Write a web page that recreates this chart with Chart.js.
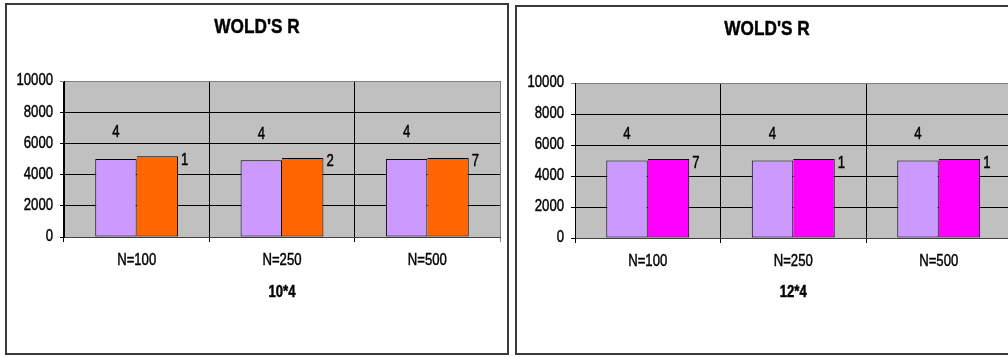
<!DOCTYPE html>
<html>
<head>
<meta charset="utf-8">
<script src="https://cdn.jsdelivr.net/npm/chart.js@4/dist/chart.umd.min.js"></script>
<style>
  html, body { margin: 0; padding: 0; background: #fff; width: 1008px; height: 357px; overflow: hidden; }
  .box { position: absolute; box-sizing: border-box; border: 2px solid #3a3a3a; background: #fff; }
  .box canvas { display: block; }
</style>
</head>
<body>
<div class="box" id="boxL" style="left:5px; top:3px; width:504px; height:352px;"><canvas id="cL" width="500" height="348"></canvas></div>
<div class="box" id="boxR" style="left:515px; top:5px; width:504px; height:350px;"><canvas id="cR" width="500" height="346"></canvas></div>
<script>
// ---- data ----
const categories = ['N=100', 'N=250', 'N=500'];
const chartTitle = "WOLD'S R";
const leftAxisTitle = '10*4';
const rightAxisTitle = '12*4';
const leftPurple = [5000, 4920, 5000];
const leftOrange = [5170, 5070, 5070];
const rightPurple = [5000, 5000, 5000];
const rightMagenta = [5090, 5090, 5090];
const leftTopLabels = ['4', '4', '4'];
const leftSideLabels = ['1', '2', '7'];
const rightTopLabels = ['4', '4', '4'];
const rightSideLabels = ['7', '1', '1'];
const yMin = 0, yMax = 10000, yStep = 2000;

// ---- rendering ----
const FONT = "'Liberation Sans', Arial, sans-serif";
const TEXT_SQUEEZE = 0.82; // narrow (condensed) lettering like the original

// draw all text horizontally condensed around its anchor point, slightly heavier
function condenseText(ctx) {
  const orig = ctx.fillText.bind(ctx);
  const origStroke = ctx.strokeText.bind(ctx);
  ctx.fillText = function (text, x, y, maxWidth) {
    this.save();
    this.translate(x, y);
    this.scale(TEXT_SQUEEZE, 1);
    orig(text, 0, 0);
    this.strokeStyle = this.fillStyle;
    this.lineWidth = 0.45;
    origStroke(text, 0, 0);
    this.restore();
  };
}

const plotBg = {
  id: 'plotBg',
  beforeInit(chart) { condenseText(chart.ctx); },
  beforeDraw(chart) {
    const { ctx, chartArea: a } = chart;
    ctx.save();
    ctx.fillStyle = '#C0C0C0';
    ctx.fillRect(a.left, a.top, a.width, a.height);
    ctx.restore();
  }
};

const barLabels = {
  id: 'barLabels',
  afterDatasetsDraw(chart, args, opts) {
    const ctx = chart.ctx;
    ctx.save();
    ctx.font = '16px ' + FONT;
    ctx.fillStyle = '#000';
    ctx.textBaseline = 'middle';
    chart.getDatasetMeta(0).data.forEach((bar, i) => {
      ctx.textAlign = 'center';
      ctx.fillText(opts.top[i], bar.x, bar.y - 26);
    });
    chart.getDatasetMeta(1).data.forEach((bar, i) => {
      ctx.textAlign = 'left';
      ctx.fillText(opts.side[i], bar.x + bar.width / 2 + 3, bar.y + 4);
    });
    ctx.restore();
  }
};

function makeChart(id, purple, second, secondColor, axisTitle, topLabels, sideLabels, lay) {
  return new Chart(document.getElementById(id), {
    type: 'bar',
    data: {
      labels: categories,
      datasets: [
        { data: purple, backgroundColor: '#CC99FF', borderColor: '#000', borderWidth: 1, borderSkipped: false },
        { data: second, backgroundColor: secondColor, borderColor: '#000',
          borderWidth: { top: 1, right: 1, bottom: 1, left: 0 }, borderSkipped: false }
      ]
    },
    options: {
      responsive: false,
      animation: false,
      devicePixelRatio: 1,
      datasets: { bar: { categoryPercentage: 0.57, barPercentage: 1 } },
      layout: { padding: { left: lay.side, right: lay.side, top: 0, bottom: 0 } },
      plugins: {
        legend: { display: false },
        tooltip: { enabled: false },
        title: {
          display: true, text: chartTitle, color: '#000',
          font: { family: FONT, size: 21, weight: 'bold' },
          padding: { top: lay.titleTop, bottom: lay.titleBottom }
        },
        barLabels: { top: topLabels, side: sideLabels }
      },
      scales: {
        x: {
          grid: {
            display: true, offset: true, lineWidth: 1, tickLength: 5,
            color: (c) => c.type === 'tick' ? '#000' : '#808080'
          },
          border: { display: true, color: '#404040', width: 1 },
          ticks: { color: '#000', padding: 9, font: { family: FONT, size: 16 } },
          title: {
            display: true, text: axisTitle, color: '#000',
            font: { family: FONT, size: 16, weight: 'bold' },
            padding: { top: 0, bottom: lay.xTitleBottom }
          },
          afterFit: (s) => { s.height = lay.xHeight; }
        },
        y: {
          min: yMin, max: yMax,
          grid: {
            lineWidth: 1, tickLength: 4,
            color: (c) => (c.tick && c.tick.value === yMax) ? '#808080' : '#000'
          },
          border: { display: true, color: '#000', width: 1 },
          ticks: { stepSize: yStep, color: '#000', padding: 7, font: { family: FONT, size: 16 },
                   callback: (v) => String(v) },
          afterFit: (s) => { s.width = lay.yWidth; }
        }
      }
    },
    plugins: [plotBg, barLabels]
  });
}

makeChart('cL', leftPurple, leftOrange, '#FF6600', leftAxisTitle, leftTopLabels, leftSideLabels,
  { side: 7, yWidth: 50, titleTop: 9.4, titleBottom: 41.4, xHeight: 116, xTitleBottom: 51 });
makeChart('cR', rightPurple, rightMagenta, '#FF00FF', rightAxisTitle, rightTopLabels, rightSideLabels,
  { side: 5.5, yWidth: 52.5, titleTop: 9.4, titleBottom: 41.4, xHeight: 115, xTitleBottom: 51 });
</script>
</body>
</html>
